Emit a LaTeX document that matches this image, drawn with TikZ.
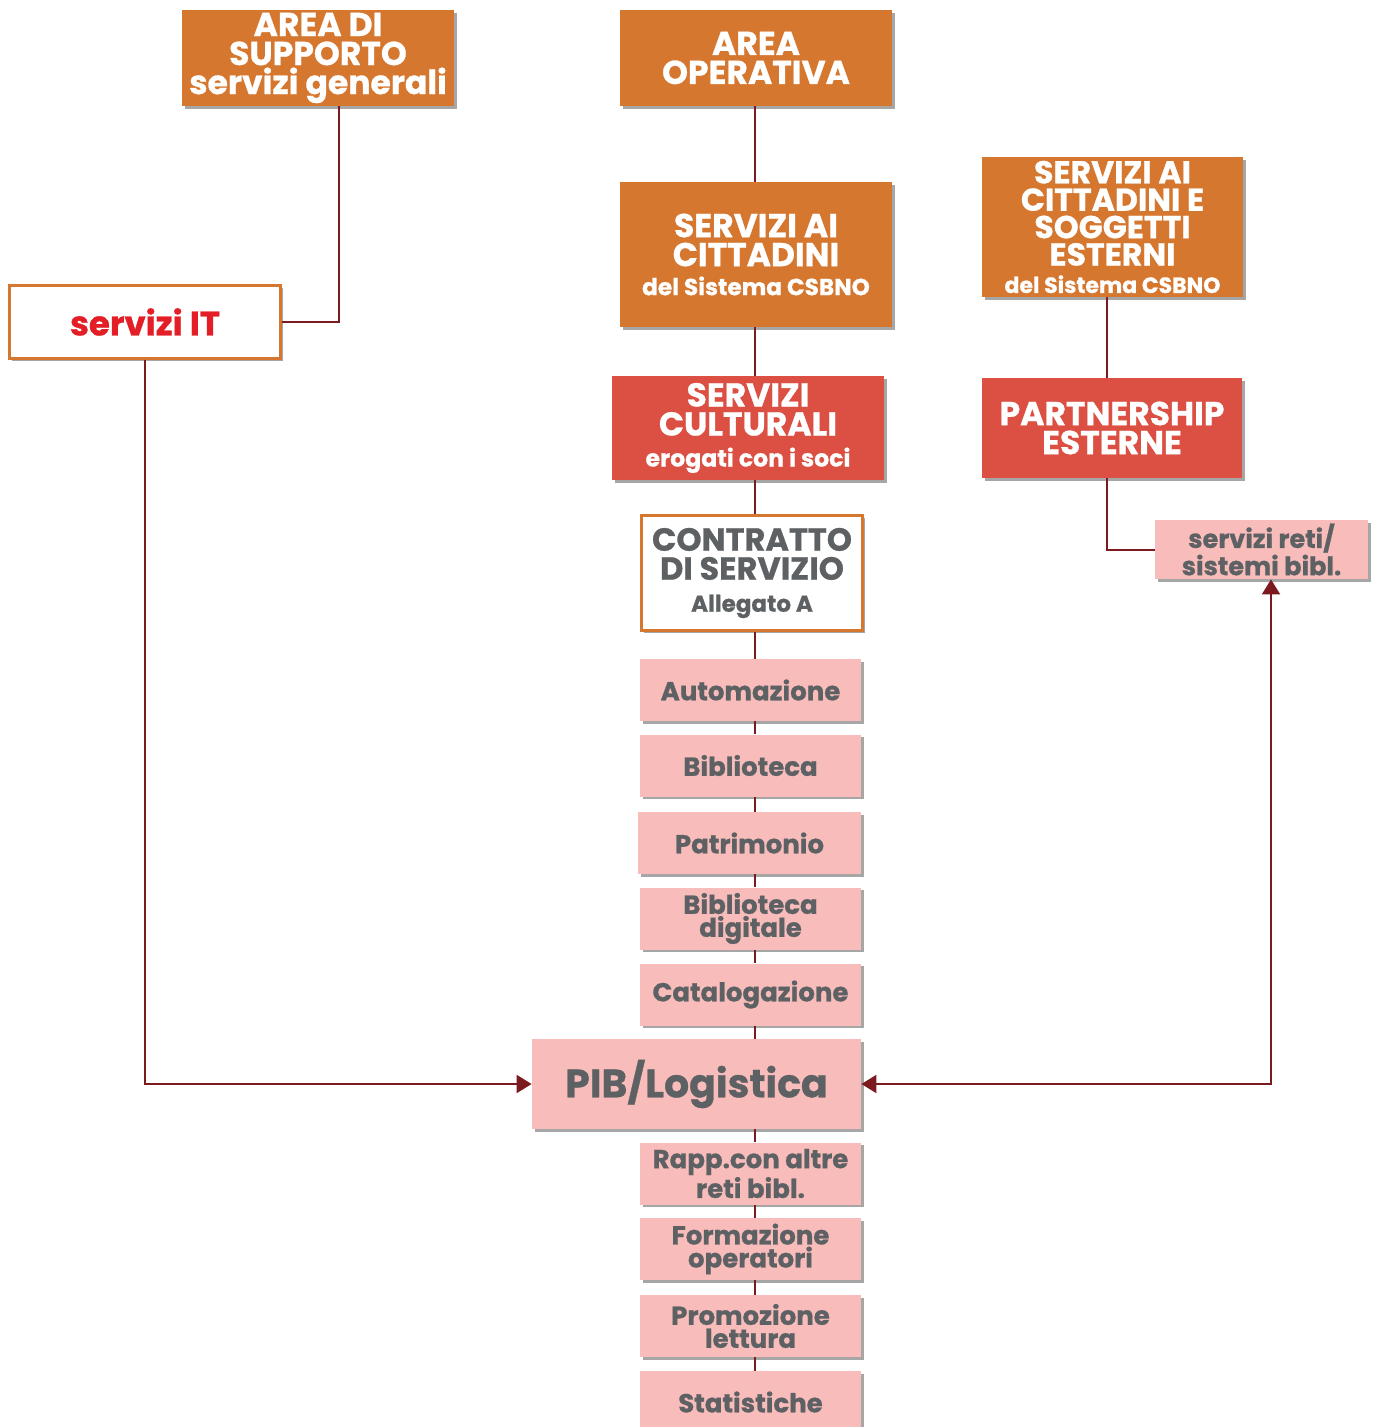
\documentclass[tikz,border=0pt]{standalone}
\usepackage{fontspec}
\setmainfont{Poppins}[BoldFeatures={FakeBold=0.8}]
\usetikzlibrary{shadows,arrows.meta}

\definecolor{boxorange}{HTML}{D67730}
\definecolor{boxred}{HTML}{DC4F43}
\definecolor{boxpink}{HTML}{F8BCBB}
\definecolor{textgray}{HTML}{5E6163}
\definecolor{itred}{HTML}{E41E26}
\definecolor{linkred}{HTML}{7B1A1F}

\newcommand\setfs[2]{\fontsize{#1}{#2}\selectfont}

\tikzset{
  box/.style={rectangle, inner sep=0pt, align=center,
    drop shadow={shadow xshift=1.3pt, shadow yshift=-1.3pt, fill=black, opacity=0.35}},
  sz/.style 2 args={minimum width=#1*0.5pt, minimum height=#2*0.5pt},
  orangebox/.style={box, fill=boxorange, text=white},
  redbox/.style={box, fill=boxred, text=white},
  pinkbox/.style={box, fill=boxpink, text=textgray},
  outlinebox/.style={box, fill=white, draw=boxorange, line width=1.5pt},
  bigcaps/.style={font=\bfseries\setfs{16.5}{14.5}},
  midcaps/.style={font=\bfseries\setfs{16}{14.5}},
  item/.style={pinkbox, sz={221}{62}, font=\bfseries\setfs{13}{11.5}},
  conn/.style={draw=linkred, line width=1pt},
  arrowtip/.tip={Triangle[length=7.5pt,width=9pt]}
}

\begin{document}
\begin{tikzpicture}[x=0.5pt, y=-0.5pt]
  \useasboundingbox (0,0) rectangle (1378,1427);
  \fill[white] (0,0) rectangle (1378,1427);

  % x positions of the vertical connectors
  \coordinate (supx) at (339,0);
  \coordinate (spine) at (755,0);
  \coordinate (estx) at (1107,0);
  \coordinate (retix) at (1271,0);

  % top row
  \node[orangebox, sz={272}{96}, bigcaps] (sup) at (318,58)
    {AREA DI\\SUPPORTO\\servizi generali};
  \node[orangebox, sz={272}{96}, bigcaps] (oper) at (756,58)
    {AREA\\OPERATIVA};

  \node[outlinebox, sz={271}{73}, font=\bfseries\setfs{17}{17}, text=itred] (it) at (145,322)
    {servizi IT};

  \node[orangebox, sz={272}{145}, bigcaps] (citt) at (756,254.5)
    {SERVIZI AI\\CITTADINI\\[0pt]{\setfs{11.6}{12}del Sistema CSBNO}};
  \node[orangebox, sz={261}{140}, font=\bfseries\setfs{15.8}{13.7}] (cittest) at (1112.5,227)
    {SERVIZI AI\\CITTADINI E\\SOGGETTI\\ESTERNI\\{\setfs{11}{12}del Sistema CSBNO}};

  \node[redbox, sz={272}{104}, bigcaps] (cult) at (748,428)
    {SERVIZI\\CULTURALI\\[1pt]{\setfs{11.8}{12}erogati con i soci}};
  \node[redbox, sz={260}{100}, bigcaps] (partner) at (1112,428)
    {PARTNERSHIP\\ESTERNE};

  \node[outlinebox, sz={221}{115}, midcaps, text=textgray] (contr) at (752,573)
    {CONTRATTO\\DI SERVIZIO\\[1.5pt]{\setfs{11.5}{12}Allegato A}};

  \node[pinkbox, sz={213}{59}, font=\bfseries\setfs{12.8}{11}] (reti) at (1261.5,549.5)
    {servizi reti/\\sistemi bibl.};

  % list of services
  \node[item] (auto) at (750.5,690) {Automazione};
  \node[item] (bibl) at (750.5,765.5) {Biblioteca};
  \node[item, sz={223}{62}] (patr) at (749.5,843) {Patrimonio};
  \node[item] (digi) at (750.5,918.5) {Biblioteca\\digitale};
  \node[item] (cata) at (750.5,994.5) {Catalogazione};
  \node[pinkbox, sz={329}{90}, font=\bfseries\setfs{19.7}{19.7}] (pib) at (696.5,1084) {PIB/Logistica};
  \node[item] (rapp) at (750.5,1173.5) {Rapp.con altre\\reti bibl.};
  \node[item] (form) at (750.5,1249) {Formazione\\operatori};
  \node[item] (prom) at (750.5,1326) {Promozione\\lettura};
  \node[item] (stat) at (750.5,1402) {Statistiche};

  % connectors
  \begin{scope}[conn]
    \draw (sup.south -| supx) |- (it.east);
    \draw (oper.south -| spine) -- (citt.north -| spine);
    \draw (citt.south -| spine) -- (cult.north -| spine);
    \draw (cult.south -| spine) -- (contr.north -| spine);
    \draw (contr.south -| spine) -- (auto.north -| spine);
    \draw (auto.south -| spine) -- (bibl.north -| spine);
    \draw (bibl.south -| spine) -- (patr.north -| spine);
    \draw (patr.south -| spine) -- (digi.north -| spine);
    \draw (digi.south -| spine) -- (cata.north -| spine);
    \draw (cata.south -| spine) -- (pib.north -| spine);
    \draw (pib.south -| spine) -- (rapp.north -| spine);
    \draw (rapp.south -| spine) -- (form.north -| spine);
    \draw (form.south -| spine) -- (prom.north -| spine);
    \draw (prom.south -| spine) -- (stat.north -| spine);
    \draw (cittest.south -| estx) -- (partner.north -| estx);
    \draw (partner.south -| estx) |- (reti.west);
    \draw[-arrowtip] (it.south) |- (pib.west);
    \draw[arrowtip-arrowtip] (pib.east) -| (reti.south -| retix);
  \end{scope}
\end{tikzpicture}
\end{document}
